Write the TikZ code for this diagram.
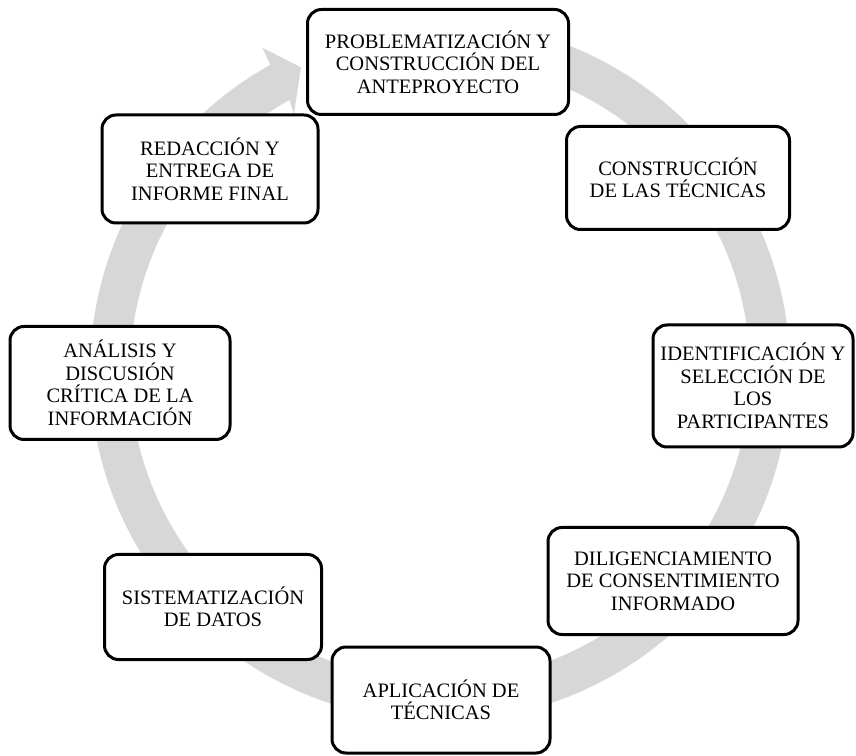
\documentclass[tikz,border=0pt]{standalone}
\usepackage{fontspec}
\setmainfont{Liberation Serif}
\usepackage{tikz}
\usetikzlibrary{positioning}
\definecolor{anillo}{RGB}{215,215,215}

\begin{document}
\begin{tikzpicture}[x=1pt, y=1pt,
    etapa/.style={draw, line width=3pt, rounded corners=14pt, fill=white,
      align=center, inner sep=2pt, font=\fontsize{20.5}{22.5}\selectfont}]
      \useasboundingbox (0,0) rectangle (856,755);
      \coordinate (ctr) at (440,384);
      \fill[anillo] ([shift={(88:350)}]ctr) arc[start angle=88, end angle=-241, radius=350]
        -- ([shift={(-241.2:369)}]ctr) -- ([shift={(-245.4:334)}]ctr)
        -- ([shift={(-240.3:295)}]ctr) -- ([shift={(-241:310)}]ctr)
        arc[start angle=-241, end angle=88, radius=310] -- cycle;
      \node (prob) [etapa, minimum width=261pt, minimum height=105pt] at (438,693)
        {PROBLEMATIZACIÓN Y\\CONSTRUCCIÓN DEL\\ANTEPROYECTO};
      \node (tecn) [etapa, minimum width=223pt, minimum height=103pt] at (678,577)
        {CONSTRUCCIÓN\\DE LAS TÉCNICAS};
      \node (ident) [etapa, minimum width=200pt, minimum height=122pt] at (753,369)
        {IDENTIFICACIÓN Y\\SELECCIÓN DE\\LOS\\PARTICIPANTES};
      \node (dilig) [etapa, minimum width=250pt, minimum height=107pt] at (673,174)
        {DILIGENCIAMIENTO\\DE CONSENTIMIENTO\\INFORMADO};
      \node (aplic) [etapa, minimum width=218pt, minimum height=106pt] at (441,55)
        {APLICACIÓN DE\\TÉCNICAS};
      \node (sist) [etapa, minimum width=217pt, minimum height=105pt] at (213,148)
        {SISTEMATIZACIÓN\\DE DATOS};
      \node (anal) [etapa, minimum width=220pt, minimum height=113pt] at (120,372)
        {ANÁLISIS Y\\DISCUSIÓN\\CRÍTICA DE LA\\INFORMACIÓN};
      \node (redac) [etapa, minimum width=216pt, minimum height=108pt] at (210,586)
        {REDACCIÓN Y\\ENTREGA DE\\INFORME FINAL};
    \end{tikzpicture}
\end{document}
